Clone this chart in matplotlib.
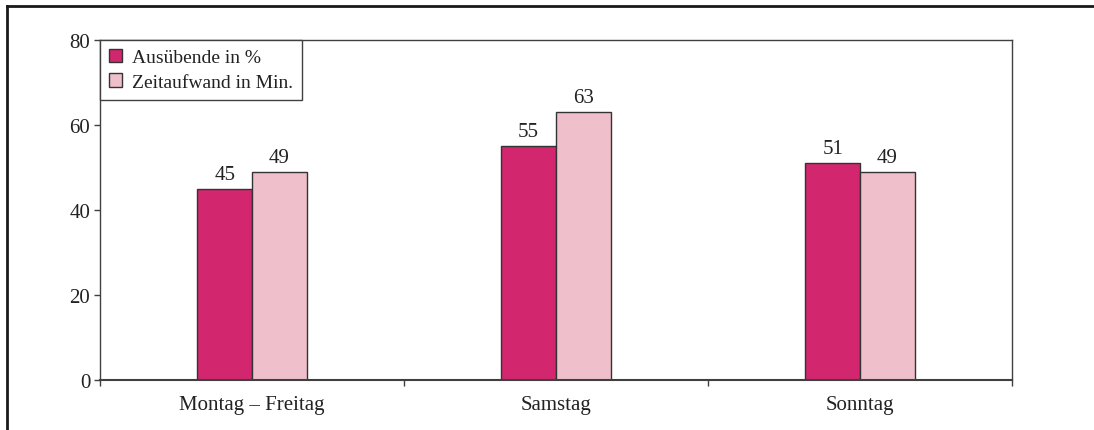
import matplotlib
matplotlib.use("Agg")
import matplotlib.pyplot as plt
from matplotlib.lines import Line2D
import numpy as np

categories = ["Montag – Freitag", "Samstag", "Sonntag"]
ausuebende = [45, 55, 51]
zeitaufwand = [49, 63, 49]
series_labels = ["Ausübende in %", "Zeitaufwand in Min."]
y_ticks = [0, 20, 40, 60, 80]

plt.rcParams["font.family"] = ["Liberation Serif", "DejaVu Serif"]
plt.rcParams["font.size"] = 15

dark_pink = "#D2266F"
light_pink = "#EFBFCB"
edge = "#333333"
axis_grey = "#404040"
text_col = "#222222"

fig = plt.figure(figsize=(10.94, 4.31), dpi=100)
ax = fig.add_axes([100 / 1094, 1 - 381 / 431, 912 / 1094, 340 / 431])

x = np.arange(len(categories))
w = 0.18
b1 = ax.bar(x - w / 2, ausuebende, w, color=dark_pink, edgecolor=edge, linewidth=1, label=series_labels[0])
b2 = ax.bar(x + w / 2, zeitaufwand, w, color=light_pink, edgecolor=edge, linewidth=1, label=series_labels[1])

for bars, vals in ((b1, ausuebende), (b2, zeitaufwand)):
    for rect, v in zip(bars, vals):
        ax.annotate(f"{v}", (rect.get_x() + rect.get_width() / 2, v),
                    xytext=(0, 3.5), textcoords="offset points",
                    ha="center", va="bottom", color=text_col, fontsize=15)

ax.set_xlim(-0.5, len(categories) - 0.5)
ax.set_ylim(0, 80)
ax.set_yticks(y_ticks)
ax.set_xticks(x)
ax.set_xticklabels(categories, color=text_col)
ax.tick_params(axis="x", length=0, pad=11)
ax.set_xticks(np.arange(-0.5, len(categories)), minor=True)
ax.tick_params(axis="x", which="minor", length=4, width=1, color=axis_grey, direction="out")
ax.tick_params(axis="y", length=4, width=1, color=axis_grey, pad=3, labelcolor=text_col)

for s in ax.spines.values():
    s.set_color(axis_grey)
    s.set_linewidth(1)
ax.spines["bottom"].set_linewidth(1.5)

leg = ax.legend(loc="upper left", bbox_to_anchor=(0, 1), borderaxespad=0,
                fancybox=False, framealpha=1, edgecolor=axis_grey,
                handlelength=0.7, handleheight=0.7, handletextpad=0.5,
                labelspacing=0.35, borderpad=0.45, fontsize=14)
leg.get_frame().set_linewidth(1)
for t in leg.get_texts():
    t.set_color(text_col)

# outer frame lines (top and left)
fig.add_artist(Line2D([7 / 1094, 1], [1 - 7 / 431, 1 - 7 / 431], transform=fig.transFigure,
                      color="#1a1a1a", linewidth=2))
fig.add_artist(Line2D([7 / 1094, 7 / 1094], [0, 1 - 7 / 431], transform=fig.transFigure,
                      color="#1a1a1a", linewidth=2))

fig.savefig("out.png", dpi=100)
